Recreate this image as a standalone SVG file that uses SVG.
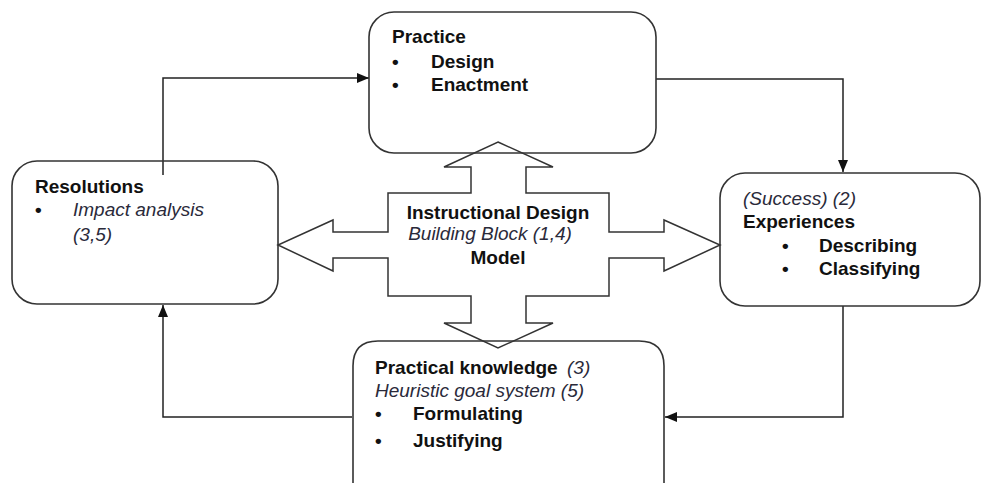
<svg xmlns="http://www.w3.org/2000/svg" width="981" height="483" viewBox="0 0 981 483">
<style>
.box{fill:none;stroke:#333;stroke-width:1.6}
.conn{fill:none;stroke:#222;stroke-width:1.5}
.cross{fill:none;stroke:#333;stroke-width:1.5;stroke-linejoin:miter}
text{font-family:"Liberation Sans",Arial,sans-serif;font-size:19px;fill:#111}
.b{font-weight:bold}
.i{font-style:italic;fill:#2a2a3a}
</style>
<defs>
<marker id="ah" viewBox="0 0 12 10" refX="12" refY="5" markerWidth="12" markerHeight="10" markerUnits="userSpaceOnUse" orient="auto">
<path d="M0,0 L12,5 L0,10 z" fill="#111"/>
</marker>
</defs>
<rect width="981" height="483" fill="#fff"/>
<g id="connectors">
<path class="conn" d="M163,175 V78 H369" marker-end="url(#ah)"/>
<path class="conn" d="M656,79 H843 V172" marker-end="url(#ah)"/>
<path class="conn" d="M843,306 V417 H665" marker-end="url(#ah)"/>
<path class="conn" d="M352,417 H163 V305" marker-end="url(#ah)"/>
</g>
<g id="practice">
<rect class="box" x="369" y="12" width="287" height="141" rx="25"/>
<text class="b" x="392" y="43">Practice</text>
<text class="b" x="392" y="68">•</text><text class="b" x="431" y="68">Design</text>
<text class="b" x="392" y="91">•</text><text class="b" x="431" y="91">Enactment</text>
</g>
<g id="resolutions">
<rect class="box" x="12" y="161" width="266" height="143" rx="25"/>
<text class="b" x="35" y="193">Resolutions</text>
<text class="b" x="35" y="216">•</text><text class="i" x="73" y="216">Impact analysis</text>
<text class="i" x="73" y="241">(3,5)</text>
</g>
<g id="experiences">
<rect class="box" x="720" y="173" width="260" height="133" rx="25"/>
<text class="i" x="743" y="205">(Success) (2)</text>
<text class="b" x="743" y="228">Experiences</text>
<text class="b" x="782" y="252">•</text><text class="b" x="819" y="252">Describing</text>
<text class="b" x="782" y="275">•</text><text class="b" x="819" y="275">Classifying</text>
</g>
<g id="practical-knowledge">
<path class="box" d="M353,490 V366 Q353,341 378,341 H639 Q664,341 664,366 V490"/>
<text class="b" x="375" y="374">Practical knowledge</text><text class="i" x="567" y="374">(3)</text>
<text class="i" x="375" y="397">Heuristic goal system (5)</text>
<text class="b" x="375" y="420">•</text><text class="b" x="413" y="420">Formulating</text>
<text class="b" x="375" y="447">•</text><text class="b" x="413" y="447">Justifying</text>
</g>
<g id="instructional-design-model">
<path class="cross" d="M498,142 L553,167 H526 V193 H609 V232 H664 V220 L720,245 L664,271 V258 H609 V296 H526 V323 H553 L498,348 L444,323 H471 V296 H388 V258 H333 V271 L278,245 L333,220 V232 H388 V193 H471 V167 H444 Z"/>
<text class="b" x="498" y="219" text-anchor="middle">Instructional Design</text>
<text class="i" x="490" y="240" text-anchor="middle">Building Block (1,4)</text>
<text class="b" x="498" y="264" text-anchor="middle">Model</text>
</g>
</svg>
